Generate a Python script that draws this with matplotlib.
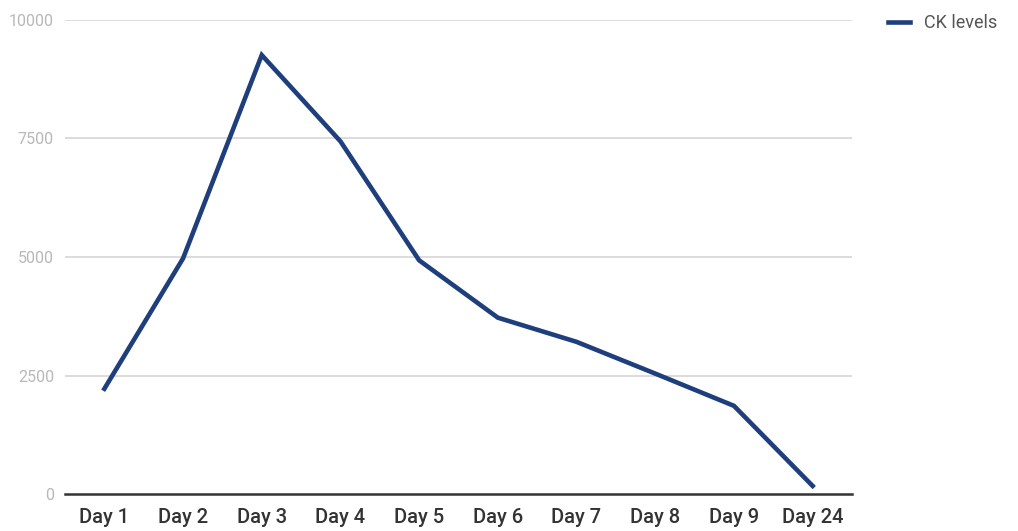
import matplotlib
matplotlib.use("Agg")
import matplotlib.pyplot as plt

plt.rcParams['font.family'] = ['Roboto', 'DejaVu Sans']

days = ['Day 1', 'Day 2', 'Day 3', 'Day 4', 'Day 5', 'Day 6', 'Day 7', 'Day 8', 'Day 9', 'Day 24']
ck_levels = [2220, 4970, 9260, 7440, 4930, 3720, 3210, 2540, 1860, 170]
y_ticks = [0, 2500, 5000, 7500, 10000]

fig = plt.figure(figsize=(10.18, 5.31), dpi=100)
ax = fig.add_axes([65 / 1018, 37 / 531, 787 / 1018, 474 / 531])

x = range(len(days))
line, = ax.plot(x, ck_levels, color='#1f3e7c', linewidth=3.3, solid_joinstyle='miter',
                label='CK levels', zorder=3)

ax.set_xlim(-0.5, len(days) - 0.5)
ax.set_ylim(0, 10000)
ax.set_yticks(y_ticks)
ax.set_yticklabels([str(v) for v in y_ticks])
ax.set_xticks(list(x))
ax.set_xticklabels(days)

# gridlines and zero baseline
for v in y_ticks[1:]:
    ax.axhline(v, color='#dcdcdc', linewidth=1.4, zorder=1)
ax.axhline(0, color='#333333', linewidth=1.8, zorder=2, clip_on=False)

for s in ax.spines.values():
    s.set_visible(False)
ax.tick_params(axis='y', length=0, pad=8, labelsize=11.5, labelcolor='#b8b8b8')
ax.tick_params(axis='x', length=0, pad=10, labelsize=14.5, labelcolor='#333333')
for lbl in ax.get_xticklabels():
    lbl.set_fontweight('medium')

leg = fig.legend(handles=[line], loc='upper left', bbox_to_anchor=(872 / 1018, 1 + 2 / 531),
                 frameon=False, fontsize=13, handlelength=1.2, handletextpad=0.8)
for t in leg.get_texts():
    t.set_color('#555555')

fig.savefig('out.png', dpi=100, facecolor='white')
